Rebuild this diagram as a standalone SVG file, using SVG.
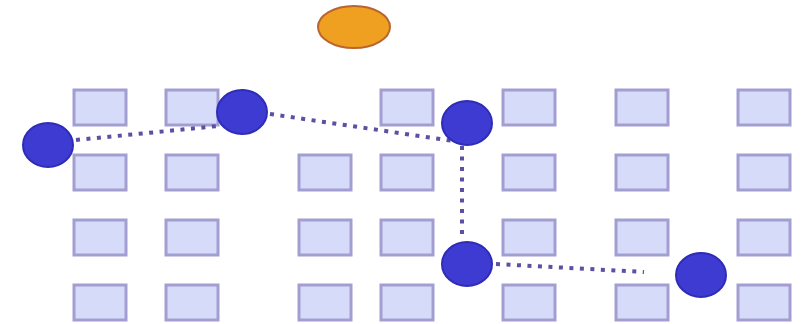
<svg xmlns="http://www.w3.org/2000/svg" width="808" height="324" viewBox="0 0 808 324">
<style>
.cell{fill:#d7dbfa;stroke:#a39ed2;stroke-width:3}
.blue{fill:#3d3bd1;stroke:#2f2cb8;stroke-width:2}
.orange{fill:#f0a021;stroke:#b8652e;stroke-width:2}
.link{fill:none;stroke:#5b50a2;stroke-width:4;stroke-dasharray:4 6.5}
</style>
<rect width="808" height="324" fill="#ffffff"/>
<g id="grid">
<rect class="cell" x="74" y="90" width="52" height="35"/>
<rect class="cell" x="166" y="90" width="52" height="35"/>
<rect class="cell" x="381" y="90" width="52" height="35"/>
<rect class="cell" x="503" y="90" width="52" height="35"/>
<rect class="cell" x="616" y="90" width="52" height="35"/>
<rect class="cell" x="738" y="90" width="52" height="35"/>
<rect class="cell" x="74" y="155" width="52" height="35"/>
<rect class="cell" x="166" y="155" width="52" height="35"/>
<rect class="cell" x="299" y="155" width="52" height="35"/>
<rect class="cell" x="381" y="155" width="52" height="35"/>
<rect class="cell" x="503" y="155" width="52" height="35"/>
<rect class="cell" x="616" y="155" width="52" height="35"/>
<rect class="cell" x="738" y="155" width="52" height="35"/>
<rect class="cell" x="74" y="220" width="52" height="35"/>
<rect class="cell" x="166" y="220" width="52" height="35"/>
<rect class="cell" x="299" y="220" width="52" height="35"/>
<rect class="cell" x="381" y="220" width="52" height="35"/>
<rect class="cell" x="503" y="220" width="52" height="35"/>
<rect class="cell" x="616" y="220" width="52" height="35"/>
<rect class="cell" x="738" y="220" width="52" height="35"/>
<rect class="cell" x="74" y="285" width="52" height="35"/>
<rect class="cell" x="166" y="285" width="52" height="35"/>
<rect class="cell" x="299" y="285" width="52" height="35"/>
<rect class="cell" x="381" y="285" width="52" height="35"/>
<rect class="cell" x="503" y="285" width="52" height="35"/>
<rect class="cell" x="616" y="285" width="52" height="35"/>
<rect class="cell" x="738" y="285" width="52" height="35"/>
</g>
<g id="connectors">
<line class="link" x1="76" y1="140" x2="218" y2="126"/>
<line class="link" x1="270" y1="114" x2="460" y2="142"/>
<line class="link" x1="462" y1="146" x2="462" y2="238"/>
<line class="link" x1="496" y1="264" x2="644" y2="272"/>
</g>
<g id="node-orange"><ellipse class="orange" cx="354" cy="27" rx="36" ry="21"/></g>
<g id="node-1"><ellipse class="blue" cx="48" cy="145" rx="25" ry="22"/></g>
<g id="node-2"><ellipse class="blue" cx="242" cy="112" rx="25" ry="22"/></g>
<g id="node-3"><ellipse class="blue" cx="467" cy="123" rx="25" ry="22"/></g>
<g id="node-4"><ellipse class="blue" cx="467" cy="264" rx="25" ry="22"/></g>
<g id="node-5"><ellipse class="blue" cx="701" cy="275" rx="25" ry="22"/></g>
</svg>
